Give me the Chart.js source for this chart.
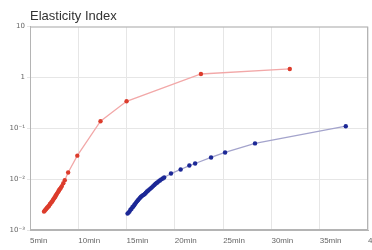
<!DOCTYPE html>
<html>
<head>
<meta charset="utf-8">
<script src="https://cdn.jsdelivr.net/npm/chart.js@4/dist/chart.umd.min.js"></script>
<style>
  html, body { margin: 0; padding: 0; background: #fff; }
  #wrap { width: 372px; height: 250px; }
</style>
</head>
<body>
<div id="wrap"><canvas id="chart"></canvas></div>
<script>
// values (time in min, elasticity index)
const redTime = [6.45, 6.52, 6.6, 6.68, 6.75, 6.82, 6.9, 6.98, 7.05, 7.12, 7.2, 7.28, 7.35, 7.42, 7.5, 7.58, 7.65, 7.72, 7.8, 7.88, 7.95, 8.02, 8.1, 8.2, 8.3, 8.45, 8.6, 8.95, 9.9, 12.3, 15.0, 22.7, 31.9];
const redIndex = [0.0023, 0.0024, 0.0025, 0.0026, 0.0027, 0.0028, 0.0029, 0.0030, 0.0032, 0.0033, 0.0035, 0.0036, 0.0038, 0.0040, 0.0042, 0.0044, 0.0047, 0.0049, 0.0052, 0.0055, 0.0058, 0.0061, 0.0064, 0.0068, 0.0073, 0.0083, 0.0095, 0.0135, 0.029, 0.138, 0.34, 1.17, 1.47];
const blueTime = [15.1, 15.2, 15.3, 15.4, 15.5, 15.6, 15.7, 15.8, 15.9, 16.0, 16.1, 16.2, 16.3, 16.4, 16.5, 16.62, 16.75, 16.88, 17.0, 17.12, 17.25, 17.38, 17.5, 17.62, 17.75, 17.88, 18.0, 18.15, 18.3, 18.45, 18.6, 18.75, 18.9, 19.6, 20.6, 21.5, 22.1, 23.75, 25.2, 28.3, 37.7];
const blueIndex = [0.0021, 0.0022, 0.0023, 0.0025, 0.0026, 0.0028, 0.0029, 0.0031, 0.0033, 0.0035, 0.0037, 0.0039, 0.0041, 0.0043, 0.0045, 0.0047, 0.0049, 0.0051, 0.0054, 0.0057, 0.0060, 0.0063, 0.0066, 0.0069, 0.0073, 0.0077, 0.0081, 0.0085, 0.0090, 0.0094, 0.0099, 0.0103, 0.0108, 0.0129, 0.0155, 0.0185, 0.0203, 0.0267, 0.0335, 0.0505, 0.110];
const xTicks = [5, 10, 15, 20, 25, 30, 35, 40];
const yTicks = [0.001, 0.01, 0.1, 1, 10];
const yTickLabels = ['10⁻³', '10⁻²', '10⁻¹', '1', '10'];

const toPoints = (xs, ys) => xs.map((x, i) => ({ x: x, y: ys[i] }));

// outline round the plot area
const frame = {
  id: 'frame',
  afterDraw(chart) {
    const a = chart.chartArea, ctx = chart.ctx;
    ctx.save();
    ctx.strokeStyle = '#b4b4b4';
    ctx.lineWidth = 1;
    ctx.strokeRect(a.left + 0.5, a.top + 0.5, a.right - a.left - 1, a.bottom - a.top - 1);
    ctx.restore();
  }
};

new Chart(document.getElementById('chart'), {
  type: 'scatter',
  data: {
    datasets: [{
      data: toPoints(redTime, redIndex),
      showLine: true,
      borderColor: '#f2a8a8',
      borderWidth: 1.3,
      pointRadius: 2.2,
      pointBackgroundColor: '#dc3c2c',
      pointBorderWidth: 0
    }, {
      data: toPoints(blueTime, blueIndex),
      showLine: true,
      borderColor: '#a4a4cc',
      borderWidth: 1.3,
      pointRadius: 2.2,
      pointBackgroundColor: '#1c2896',
      pointBorderWidth: 0
    }]
  },
  options: {
    responsive: true,
    maintainAspectRatio: false,
    animation: false,
    layout: { padding: { left: 0, right: 4, top: 0, bottom: 0 } },
    plugins: {
      legend: { display: false },
      tooltip: { enabled: false },
      title: {
        display: true,
        fullSize: false,
        text: 'Elasticity Index',
        align: 'start',
        color: '#333',
        font: { family: 'Liberation Sans', size: 13, weight: 'normal' },
        padding: { top: 9, bottom: 2 }
      }
    },
    scales: {
      x: {
        type: 'linear',
        min: 5,
        max: 40,
        afterBuildTicks(scale) { scale.ticks = xTicks.map(v => ({ value: v })); },
        afterFit(scale) { scale.height = 20; scale.paddingRight = 0; scale.paddingLeft = 0; },
        grid: { color: '#e6e6e6', drawTicks: false },
        border: { color: '#b4b4b4' },
        ticks: {
          align: 'start',
          maxRotation: 0,
          autoSkip: false,
          padding: 6,
          color: '#666',
          font: { family: 'Liberation Sans', size: 8 },
          callback: v => v + 'min'
        }
      },
      y: {
        type: 'logarithmic',
        min: 0.001,
        max: 10,
        afterBuildTicks(scale) { scale.ticks = yTicks.map(v => ({ value: v })); },
        afterFit(scale) { scale.width = 30; },
        grid: { color: '#e6e6e6', tickLength: 3 },
        border: { color: '#b4b4b4' },
        ticks: {
          padding: 2,
          color: '#666',
          font: { family: 'DejaVu Sans', size: 7 },
          callback: v => yTickLabels[yTicks.indexOf(v)]
        }
      }
    }
  },
  plugins: [frame]
});
</script>
</body>
</html>
